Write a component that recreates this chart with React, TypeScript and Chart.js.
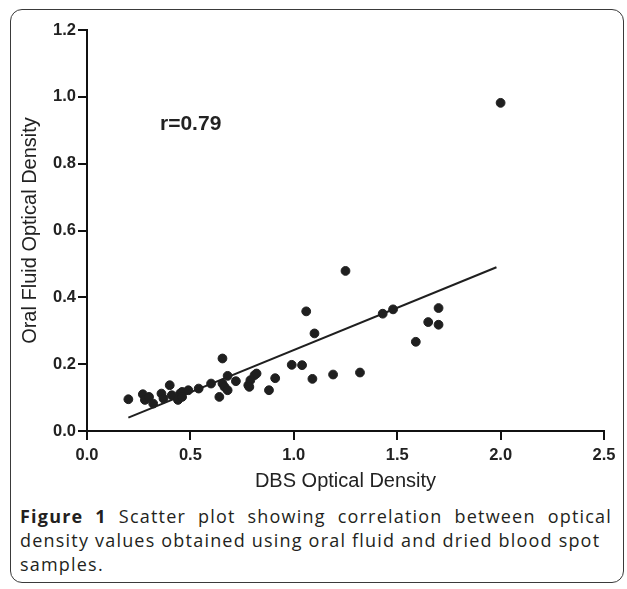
import React, { useEffect, useRef } from "react";
import { Chart, registerables } from "chart.js";

Chart.register(...registerables);

const dbsX = [0.2, 0.27, 0.28, 0.3, 0.32, 0.36, 0.37, 0.4, 0.41, 0.45, 0.44, 0.46, 0.46, 0.49, 0.54, 0.6, 0.655, 0.68, 0.655, 0.665, 0.68, 0.64, 0.72, 0.78, 0.79, 0.81, 0.82, 0.785, 0.88, 0.91, 0.99, 1.04, 1.09, 1.19, 1.32, 1.06, 1.1, 1.25, 1.43, 1.48, 1.65, 1.7, 1.7, 1.59, 2.0];
const oralY = [0.095, 0.11, 0.093, 0.102, 0.082, 0.112, 0.097, 0.137, 0.107, 0.112, 0.093, 0.117, 0.102, 0.122, 0.127, 0.142, 0.217, 0.165, 0.142, 0.132, 0.122, 0.102, 0.149, 0.137, 0.152, 0.167, 0.172, 0.132, 0.122, 0.158, 0.198, 0.197, 0.156, 0.169, 0.175, 0.358, 0.292, 0.479, 0.351, 0.364, 0.326, 0.368, 0.318, 0.267, 0.982];
const fitX = [0.2, 1.98];
const fitY = [0.04, 0.49];
const xTicks = [0, 0.5, 1.0, 1.5, 2.0, 2.5];
const yTicks = [0, 0.2, 0.4, 0.6, 0.8, 1.0, 1.2];

const AXIS_FONT = "'Liberation Sans', Arial, sans-serif";
const CAPTION_FONT = "'Open Sans', sans-serif";

export default function App() {
  const ref = useRef<HTMLCanvasElement | null>(null);
  useEffect(() => {
    if (!ref.current) return;
    const chart = new Chart(ref.current, {
      type: "scatter",
      data: {
        datasets: [
          {
            label: "samples",
            data: dbsX.map((x, i) => ({ x, y: oralY[i] })),
            backgroundColor: "#1f1f1f",
            borderColor: "#1f1f1f",
            pointRadius: 4.4,
            pointHoverRadius: 4.4,
          },
          {
            type: "line",
            label: "fit",
            data: fitX.map((x, i) => ({ x, y: fitY[i] })),
            borderColor: "#1f1f1f",
            borderWidth: 2,
            pointRadius: 0,
            fill: false,
          } as any,
        ],
      },
      options: {
        animation: false,
        responsive: false,
        devicePixelRatio: 1,
        layout: { padding: { left: 18, top: 30, right: 23, bottom: 0 } },
        plugins: { legend: { display: false }, tooltip: { enabled: false } },
        scales: {
          x: {
            type: "linear",
            min: 0,
            max: 2.5,
            afterBuildTicks: (s: any) => {
              s.ticks = xTicks.map((v) => ({ value: v }));
            },
            afterFit: (s: any) => {
              s.height = 69;
            },
            ticks: {
              color: "#222",
              font: { family: AXIS_FONT, size: 16.5, weight: "bold" },
              padding: 6,
              callback: (v: any) => Number(v).toFixed(1),
            },
            grid: { drawOnChartArea: false, color: "#111", tickLength: 9, lineWidth: 2, tickColor: "#111", tickWidth: 2 },
            border: { color: "#111", width: 2 },
            title: {
              display: true,
              text: "DBS Optical Density",
              color: "#222",
              font: { family: AXIS_FONT, size: 20 },
              padding: { top: 4, bottom: 7 },
            },
          },
          y: {
            type: "linear",
            min: 0,
            max: 1.2,
            afterBuildTicks: (s: any) => {
              s.ticks = yTicks.map((v) => ({ value: v }));
            },
            afterFit: (s: any) => {
              s.width = 69;
            },
            ticks: {
              color: "#222",
              font: { family: AXIS_FONT, size: 16.5, weight: "bold" },
              padding: 2,
              callback: (v: any) => Number(v).toFixed(1),
            },
            grid: { drawOnChartArea: false, color: "#111", tickLength: 9, lineWidth: 2, tickColor: "#111", tickWidth: 2 },
            border: { color: "#111", width: 2 },
            title: {
              display: true,
              text: "Oral Fluid Optical Density",
              color: "#222",
              font: { family: AXIS_FONT, size: 20 },
              padding: { top: 0, bottom: 0 },
            },
          },
        },
      },
    });
    return () => chart.destroy();
  }, []);

  return (
    <div style={{ position: "absolute", left: 0, top: 0, width: 627, height: 589, overflow: "hidden", background: "#fff" }}>
      <div
        style={{
          position: "absolute",
          left: 10,
          top: 9,
          width: 614,
          height: 574,
          border: "1.5px solid #3a3a3a",
          borderRadius: 12,
          boxSizing: "border-box",
        }}
      />
      <canvas ref={ref} width={627} height={500} style={{ position: "absolute", left: 0, top: 0, width: 627, height: 500 }} />
      <div
        style={{
          position: "absolute",
          left: 160,
          top: 111,
          fontFamily: AXIS_FONT,
          fontWeight: "bold",
          fontSize: 21,
          color: "#222",
        }}
      >
        r=0.79
      </div>
      <div
        style={{
          position: "absolute",
          left: 20,
          top: 504,
          width: 592,
          fontFamily: CAPTION_FONT,
          fontSize: 18,
          letterSpacing: "1.2px",
          lineHeight: "24px",
          color: "#231f20",
        }}
      >
        <div style={{ textAlign: "justify", textAlignLast: "justify", whiteSpace: "nowrap" as any }}>
          <span style={{ fontWeight: "bold" }}>Figure 1</span> Scatter plot showing correlation between optical
        </div>
        <div style={{ whiteSpace: "nowrap" }}>density values obtained using oral fluid and dried blood spot</div>
        <div>samples.</div>
      </div>
    </div>
  );
}
